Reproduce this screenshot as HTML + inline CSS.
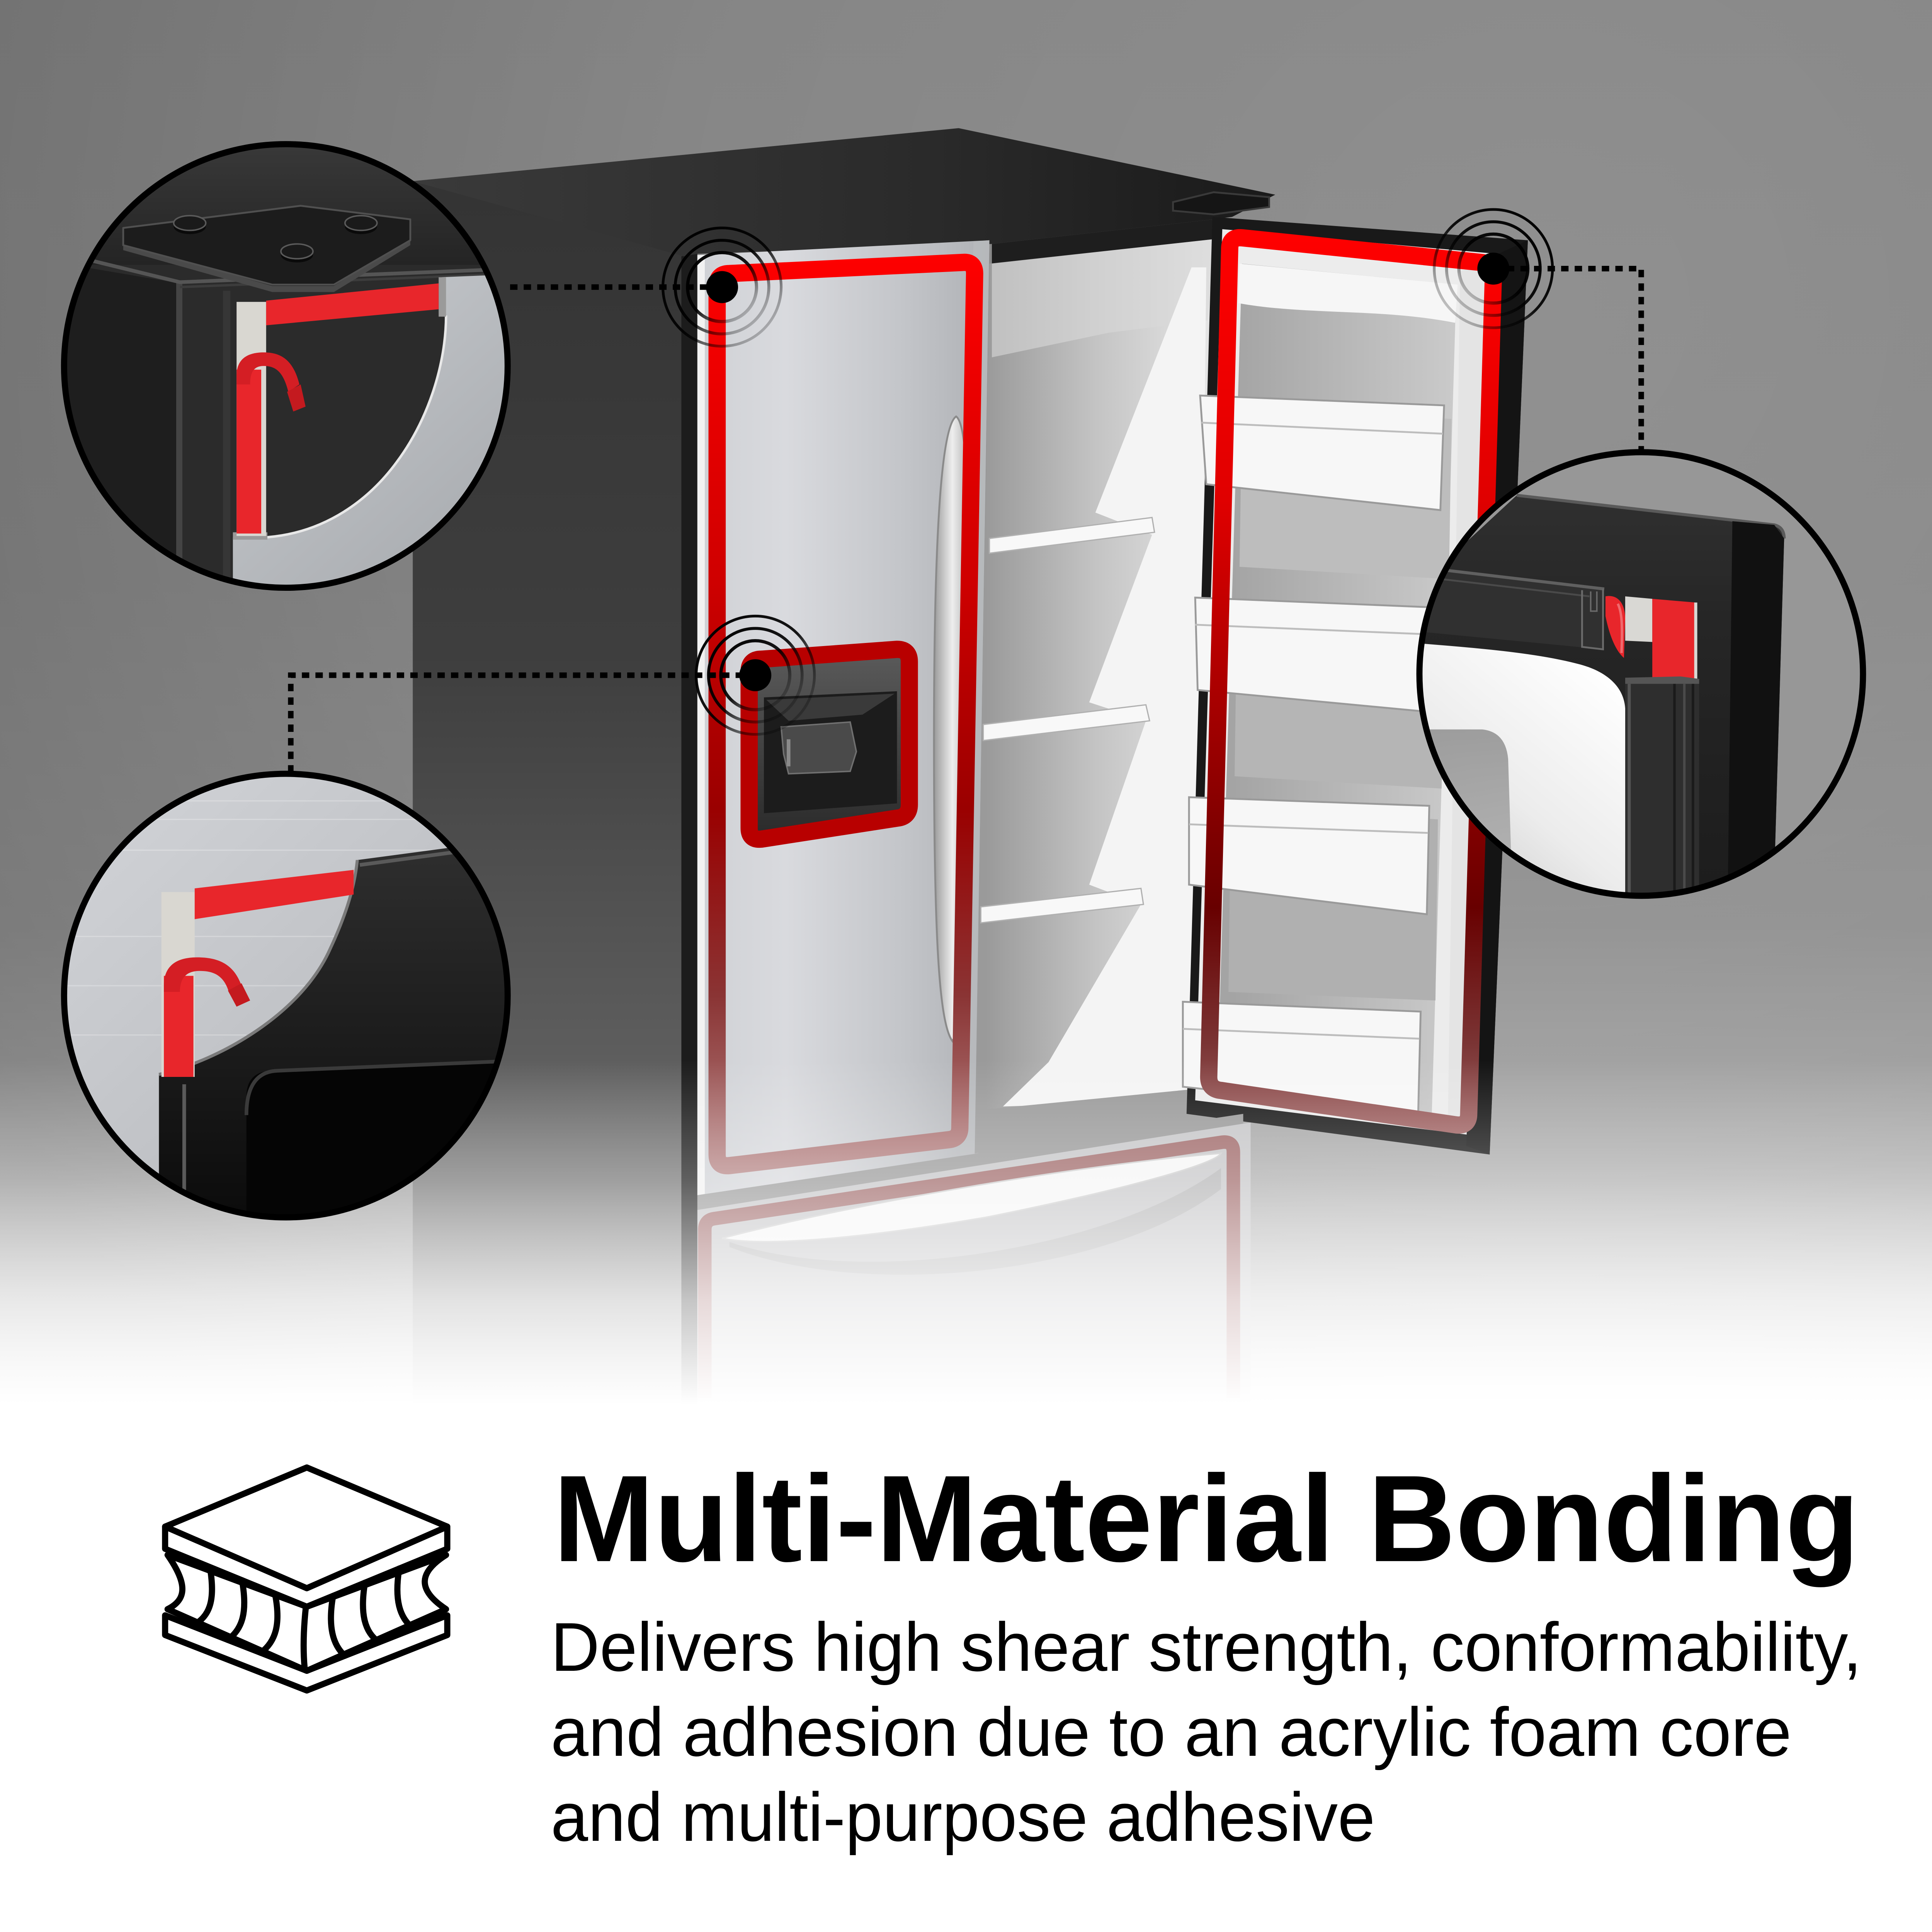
<!DOCTYPE html>
<html><head><meta charset="utf-8">
<style>html,body{margin:0;padding:0;background:#fff;width:100%;height:100%;overflow:hidden;}svg{display:block;width:100vw;height:100vh;}</style>
</head>
<body>
<svg xmlns="http://www.w3.org/2000/svg" viewBox="0 0 1568 1568" preserveAspectRatio="none">
<defs>
 <linearGradient id="bg" x1="0" y1="0" x2="0" y2="1568" gradientUnits="userSpaceOnUse">
  <stop offset="0" stop-color="#8e8e8e"/>
  <stop offset="0.3" stop-color="#929292"/>
  <stop offset="0.48" stop-color="#9c9c9c"/>
  <stop offset="0.6" stop-color="#b6b6b6"/>
  <stop offset="0.68" stop-color="#d8d8d8"/>
  <stop offset="0.725" stop-color="#ffffff"/>
  <stop offset="1" stop-color="#ffffff"/>
 </linearGradient>
 <radialGradient id="vig" cx="1250" cy="250" r="1400" gradientUnits="userSpaceOnUse">
  <stop offset="0" stop-color="#000" stop-opacity="0"/>
  <stop offset="0.5" stop-color="#000" stop-opacity="0.06"/>
  <stop offset="1" stop-color="#000" stop-opacity="0.22"/>
 </radialGradient>
 <linearGradient id="fade" x1="0" y1="860" x2="0" y2="1140" gradientUnits="userSpaceOnUse">
  <stop offset="0" stop-color="#fff" stop-opacity="0"/>
  <stop offset="0.35" stop-color="#fff" stop-opacity="0.3"/>
  <stop offset="0.7" stop-color="#fff" stop-opacity="0.75"/>
  <stop offset="1" stop-color="#fff" stop-opacity="1"/>
 </linearGradient>
 <linearGradient id="side" x1="0" y1="150" x2="0" y2="1100" gradientUnits="userSpaceOnUse">
  <stop offset="0" stop-color="#343434"/>
  <stop offset="0.4" stop-color="#3e3e3e"/>
  <stop offset="0.75" stop-color="#5e5e5e"/>
  <stop offset="1" stop-color="#9a9a9a"/>
 </linearGradient>
 <linearGradient id="topface" x1="335" y1="150" x2="1035" y2="160" gradientUnits="userSpaceOnUse">
  <stop offset="0" stop-color="#3a3a3a"/>
  <stop offset="0.6" stop-color="#2a2a2a"/>
  <stop offset="1" stop-color="#1a1a1a"/>
 </linearGradient>
 <linearGradient id="steelDoor" x1="566" y1="0" x2="805" y2="0" gradientUnits="userSpaceOnUse">
  <stop offset="0" stop-color="#cfd1d5"/>
  <stop offset="0.3" stop-color="#d9dade"/>
  <stop offset="0.7" stop-color="#c3c5c9"/>
  <stop offset="1" stop-color="#aeb0b4"/>
 </linearGradient>
 <linearGradient id="redL" x1="0" y1="200" x2="0" y2="960" gradientUnits="userSpaceOnUse">
  <stop offset="0" stop-color="#ff0000"/>
  <stop offset="0.35" stop-color="#d00000"/>
  <stop offset="0.6" stop-color="#9a0000"/>
  <stop offset="0.8" stop-color="#8a3434"/>
  <stop offset="1" stop-color="#b88a8a"/>
 </linearGradient>
 <linearGradient id="redR" x1="0" y1="185" x2="0" y2="920" gradientUnits="userSpaceOnUse">
  <stop offset="0" stop-color="#ff0000"/>
  <stop offset="0.3" stop-color="#e00000"/>
  <stop offset="0.55" stop-color="#a00000"/>
  <stop offset="0.75" stop-color="#680000"/>
  <stop offset="0.9" stop-color="#7a3434"/>
  <stop offset="1" stop-color="#a06464"/>
 </linearGradient>
 <linearGradient id="interior" x1="800" y1="0" x2="980" y2="0" gradientUnits="userSpaceOnUse">
  <stop offset="0" stop-color="#9a9a9a"/>
  <stop offset="0.5" stop-color="#c4c4c4"/>
  <stop offset="1" stop-color="#e4e4e4"/>
 </linearGradient>
 <linearGradient id="recess" x1="1000" y1="0" x2="1180" y2="0" gradientUnits="userSpaceOnUse">
  <stop offset="0" stop-color="#a4a4a4"/>
  <stop offset="1" stop-color="#cacaca"/>
 </linearGradient>
 <linearGradient id="handle" x1="758" y1="0" x2="788" y2="0" gradientUnits="userSpaceOnUse">
  <stop offset="0" stop-color="#9a9a9a"/>
  <stop offset="0.5" stop-color="#eeeeee"/>
  <stop offset="1" stop-color="#a8a8a8"/>
 </linearGradient>
 <linearGradient id="rg1" x1="0" y1="0" x2="1" y2="1">
  <stop offset="0" stop-color="#000" stop-opacity="1"/>
  <stop offset="0.5" stop-color="#000" stop-opacity="0.9"/>
  <stop offset="0.8" stop-color="#000" stop-opacity="0.3"/>
  <stop offset="1" stop-color="#000" stop-opacity="0.05"/>
 </linearGradient>
 <linearGradient id="rg2" x1="1" y1="0" x2="0" y2="1">
  <stop offset="0" stop-color="#000" stop-opacity="1"/>
  <stop offset="0.5" stop-color="#000" stop-opacity="0.9"/>
  <stop offset="0.8" stop-color="#000" stop-opacity="0.3"/>
  <stop offset="1" stop-color="#000" stop-opacity="0.05"/>
 </linearGradient>
 <linearGradient id="steelC" x1="190" y1="230" x2="410" y2="470" gradientUnits="userSpaceOnUse">
  <stop offset="0" stop-color="#c9ccd0"/>
  <stop offset="1" stop-color="#a6a9ad"/>
 </linearGradient>
 <linearGradient id="tlTop" x1="0" y1="110" x2="0" y2="215" gradientUnits="userSpaceOnUse">
  <stop offset="0" stop-color="#3a3a3a"/>
  <stop offset="1" stop-color="#242424"/>
 </linearGradient>
 <linearGradient id="steelBL" x1="60" y1="630" x2="400" y2="990" gradientUnits="userSpaceOnUse">
  <stop offset="0" stop-color="#d2d4d8"/>
  <stop offset="1" stop-color="#b2b4b8"/>
 </linearGradient>
 <linearGradient id="blackBL" x1="0" y1="690" x2="0" y2="1000" gradientUnits="userSpaceOnUse">
  <stop offset="0" stop-color="#2e2e2e"/>
  <stop offset="0.5" stop-color="#1c1c1c"/>
  <stop offset="1" stop-color="#0a0a0a"/>
 </linearGradient>
 <linearGradient id="blockR" x1="0" y1="400" x2="0" y2="740" gradientUnits="userSpaceOnUse">
  <stop offset="0" stop-color="#303030"/>
  <stop offset="0.3" stop-color="#262626"/>
  <stop offset="1" stop-color="#1c1c1c"/>
 </linearGradient>
 <linearGradient id="whiteR" x1="1150" y1="720" x2="1300" y2="540" gradientUnits="userSpaceOnUse">
  <stop offset="0" stop-color="#c8c8c8"/>
  <stop offset="0.45" stop-color="#ececec"/>
  <stop offset="1" stop-color="#ffffff"/>
 </linearGradient>
 <linearGradient id="grayR" x1="0" y1="590" x2="0" y2="740" gradientUnits="userSpaceOnUse">
  <stop offset="0" stop-color="#8e8e8e"/>
  <stop offset="1" stop-color="#b4b4b4"/>
 </linearGradient>
 <linearGradient id="dispIn" x1="0" y1="530" x2="0" y2="680" gradientUnits="userSpaceOnUse">
  <stop offset="0" stop-color="#5a5a5a"/>
  <stop offset="1" stop-color="#2a2a2a"/>
 </linearGradient>
 <clipPath id="cTL"><circle cx="232" cy="297" r="179"/></clipPath>
 <clipPath id="cBL"><circle cx="232" cy="808" r="179"/></clipPath>
 <clipPath id="cR"><circle cx="1332" cy="547" r="179"/></clipPath>
</defs>

<!-- background -->
<rect x="0" y="0" width="1568" height="1568" fill="url(#bg)"/>
<rect x="0" y="0" width="1568" height="1140" fill="url(#vig)"/>

<!-- ================= FRIDGE ================= -->
<polygon points="335,147 558,208 558,1140 335,1140" fill="url(#side)"/>
<polygon points="553,208 566,206 566,1140 553,1140" fill="#1c1c1c"/>
<polygon points="335,147 778,104 1035,158 1000,176 985,178 805,198 566,206 555,208" fill="url(#topface)"/>
<polygon points="805,198 985,178 985,196 805,216" fill="#1e1e1e"/>
<polygon points="952,164 985,156 1030,160 1030,168 985,174 952,171" fill="#151515" stroke="#3a3a3a" stroke-width="1.5"/>

<!-- interior -->
<polygon points="803,214 986,194 973,902 791,936" fill="url(#interior)"/>
<polygon points="805,214 986,194 980,260 900,270 805,290" fill="#d8d8d8" opacity="0.6"/>
<polygon points="967,217 979,217 972,893 814,898 851,862 926,734 884,718 930,585 884,570 935,434 889,416" fill="#f4f4f4"/>
<polygon points="803,437 935,420 937,432 803,449" fill="#f8f8f8" stroke="#b0b0b0" stroke-width="1"/>
<polygon points="798,588 930,572 933,585 798,601" fill="#f8f8f8" stroke="#b0b0b0" stroke-width="1"/>
<polygon points="796,736 926,721 928,734 796,749" fill="#f8f8f8" stroke="#b0b0b0" stroke-width="1"/>
<polygon points="794,901 1009,880 1009,918 794,936" fill="#9a9a9a"/>

<!-- left door -->
<polygon points="566,207 803,195 791,939 566,970" fill="url(#steelDoor)"/>
<polygon points="566,207 572,207 572,969 566,970" fill="#f2f2f2"/>
<polygon points="790,196 803,195 791,939 779,940" fill="#b8babd" opacity="0.8"/>
<path d="M776,338 C786,345 788,420 786,600 C785,760 782,830 773,845 C762,830 758,760 758,600 C758,420 765,345 776,338 Z" fill="url(#handle)" stroke="#8a8a8a" stroke-width="1.5"/>
<path d="M592,222 L781,213 Q791,212 791,222 L779,915 Q779,924 770,925 L592,946 Q582,947 582,937 L582,232 Q582,222 592,222 Z" fill="none" stroke="url(#redL)" stroke-width="14"/>
<path d="M618,535 L728,527 Q738,527 738,537 L738,653 Q738,663 728,664 L618,681 Q608,682 608,672 L608,545 Q608,535 618,535 Z" fill="url(#dispIn)" stroke="#b80000" stroke-width="14"/>
<polygon points="620,566 728,561 728,652 620,660" fill="#1c1c1c"/>
<polygon points="622,568 726,563 700,580 640,585" fill="#3a3a3a"/>
<path d="M634,590 L690,586 L695,610 L690,626 L640,628 L636,612 Z" fill="#4a4a4a" stroke="#707070" stroke-width="1.2"/>
<path d="M640,600 L640,622" stroke="#8a8a8a" stroke-width="3"/>

<!-- right door -->
<polygon points="984,176 1240,195 1209,937 963,904" fill="#191919"/>
<polygon points="992,186 1226,207 1200,922 970,893" fill="#ececec"/>
<polygon points="1008,214 1182,231 1162,905 988,880" fill="url(#recess)"/>
<path d="M1006,214 L1183,231 L1181,262 C1120,250 1060,256 1005,246 Z" fill="#f6f6f6"/>
<polygon points="1008,330 1178,340 1176,470 1006,460" fill="#bdbdbd"/>
<polygon points="1004,490 1172,500 1170,640 1002,630" fill="#b5b5b5"/>
<polygon points="999,655 1167,665 1165,812 997,805" fill="#b0b0b0"/>
<g stroke="#9a9a9a" stroke-width="1.5">
 <polygon points="974,321 1172,329 1169,414 979,393" fill="#f7f7f7"/>
 <polygon points="970,485 1165,493 1162,578 972,560" fill="#f7f7f7"/>
 <polygon points="965,647 1160,654 1158,742 965,718" fill="#f7f7f7"/>
 <polygon points="960,813 1153,821 1151,903 960,882" fill="#f7f7f7"/>
</g>
<g stroke="#bdbdbd" stroke-width="1.5" fill="none">
 <path d="M975,343 L1171,352"/>
 <path d="M970,507 L1164,515"/>
 <path d="M965,669 L1159,676"/>
 <path d="M960,835 L1152,843"/>
</g>
<polygon points="1185,220 1226,207 1200,922 1175,918" fill="#e4e4e4"/>
<polygon points="1216,206 1240,195 1209,937 1190,930" fill="#141414"/>
<path d="M1008,193 L1202,213 Q1212,214 1212,224 L1192,904 Q1192,914 1182,913 L991,885 Q981,884 981,874 L998,202 Q998,192 1008,193 Z" fill="none" stroke="url(#redR)" stroke-width="14"/>

<!-- lower drawer -->
<polygon points="566,970 794,936 1009,904 1009,912 566,982" fill="#9a9a9a"/>
<polygon points="566,982 1015,911 1015,1140 566,1140" fill="#c6c6c8"/>
<path d="M572,1135 L572,998 Q572,990 580,989 L992,927 Q1001,926 1001,935 L1001,1135" fill="none" stroke="#a06a6a" stroke-width="11"/>
<path d="M592,1008 C700,1045 900,1015 991,948 L991,965 C900,1035 700,1055 592,1012 Z" fill="#aaaaaa" opacity="0.6"/>
<path d="M586,1005 C700,975 880,945 991,936 C985,946 900,968 800,988 C700,1005 620,1012 586,1005 Z" fill="#f6f6f6" stroke="#cfcfcf" stroke-width="1.2"/>

<!-- fade to white -->
<rect x="0" y="860" width="1568" height="282" fill="url(#fade)"/>
<rect x="0" y="1140" width="1568" height="428" fill="#fff"/>

<!-- ================= DOTTED CONNECTORS ================= -->
<g stroke="#000" stroke-width="4.5" stroke-dasharray="6 5" fill="none">
 <path d="M414,233 H586"/>
 <path d="M236,627 V548 H613"/>
 <path d="M1212,218 H1332 V366"/>
</g>

<g fill="none">
 <circle cx="586" cy="233" r="48" stroke="url(#rg1)" stroke-width="2.2"/>
 <circle cx="586" cy="233" r="38" stroke="url(#rg1)" stroke-width="2.4"/>
 <circle cx="586" cy="233" r="28" stroke="url(#rg1)" stroke-width="2.6"/>
 <circle cx="613" cy="548" r="48" stroke="url(#rg1)" stroke-width="2.2"/>
 <circle cx="613" cy="548" r="38" stroke="url(#rg1)" stroke-width="2.4"/>
 <circle cx="613" cy="548" r="28" stroke="url(#rg1)" stroke-width="2.6"/>
 <circle cx="1212" cy="218" r="48" stroke="url(#rg2)" stroke-width="2.2"/>
 <circle cx="1212" cy="218" r="38" stroke="url(#rg2)" stroke-width="2.4"/>
 <circle cx="1212" cy="218" r="28" stroke="url(#rg2)" stroke-width="2.6"/>
</g>
<circle cx="586" cy="233" r="13" fill="#000"/>
<circle cx="613" cy="548" r="13" fill="#000"/>
<circle cx="1212" cy="218" r="13" fill="#000"/>

<!-- ================= TOP-LEFT CIRCLE ================= -->
<g clip-path="url(#cTL)">
 <rect x="40" y="100" width="400" height="400" fill="#2b2b2b"/>
 <rect x="40" y="100" width="400" height="115" fill="url(#tlTop)"/>
 <polygon points="40,212 146,230 146,490 40,490" fill="#1e1e1e"/>
 <rect x="143" y="229" width="5" height="260" fill="#444"/>
 <rect x="181" y="236" width="6" height="250" fill="#363636"/>
 <polyline points="60,208 146,229 395,219" stroke="#555" stroke-width="3" fill="none"/>
 <polyline points="146,233 395,223" stroke="#3c3c3c" stroke-width="2" fill="none"/>
 <!-- hinge plate with thickness -->
 <polygon points="100,185 100,201 221,236 271,236 333,199 333,180" fill="#0e0e0e"/>
 <polygon points="100,199 221,232 271,232 333,195 333,199 271,237 221,237 100,203" fill="#4a4a4a"/>
 <polygon points="100,185 244,167 333,178 333,195 271,231 221,231 100,199" fill="#1c1c1c" stroke="#505050" stroke-width="1.5" stroke-linejoin="round"/>
 <g>
  <ellipse cx="154" cy="184" rx="13" ry="6" fill="#0a0a0a"/>
  <ellipse cx="154" cy="181" rx="13" ry="6" fill="#1a1a1a" stroke="#5a5a5a" stroke-width="1.2"/>
  <ellipse cx="293" cy="184" rx="13" ry="6" fill="#0a0a0a"/>
  <ellipse cx="293" cy="181" rx="13" ry="6" fill="#1a1a1a" stroke="#5a5a5a" stroke-width="1.2"/>
  <ellipse cx="241" cy="207" rx="13" ry="6" fill="#0a0a0a"/>
  <ellipse cx="241" cy="204" rx="13" ry="6" fill="#1a1a1a" stroke="#5a5a5a" stroke-width="1.2"/>
 </g>
 <path d="M358,225 L430,222 L430,495 L189,495 L189,436 L217,436 C265,432 300,405 322,375 C348,340 362,295 362,256 Z" fill="url(#steelC)"/>
 <path d="M217,436 C265,432 300,405 322,375 C348,340 362,295 362,256" fill="none" stroke="#e8e8e8" stroke-width="2"/>
 <rect x="356" y="225" width="6" height="32" fill="#9a9a9a"/>
 <rect x="189" y="432" width="28" height="6" fill="#9a9a9a"/>
 <rect x="192" y="245" width="24" height="190" fill="#d9d7d1"/>
 <polygon points="216,244 356,230 356,251 216,264" fill="#e8262b"/>
 <rect x="192" y="300" width="20" height="133" fill="#e8262b"/>
 <path d="M192,305 C192,292 200,286 214,286 C228,286 238,292 243,312 L234,318 C230,302 224,297 214,297 C206,297 203,302 203,312 L192,312 Z" fill="#d41e24"/>
 <polygon points="233,318 244,312 248,330 238,334" fill="#c41a1f"/>
</g>
<circle cx="232" cy="297" r="180" fill="none" stroke="#000" stroke-width="5"/>

<!-- ================= BOTTOM-LEFT CIRCLE ================= -->
<g clip-path="url(#cBL)">
 <rect x="40" y="620" width="400" height="380" fill="url(#steelBL)"/>
 <g stroke="#ffffff" stroke-opacity="0.25" stroke-width="1">
  <path d="M50,650 H420"/><path d="M50,665 H420"/><path d="M50,690 H420"/><path d="M50,760 H300"/><path d="M50,800 H250"/><path d="M50,840 H200"/>
 </g>
 <path d="M290,698 L440,678 L440,1000 L129,1000 L129,872 C180,860 245,822 268,770 C282,740 288,718 290,698 Z" fill="url(#blackBL)"/>
 <path d="M290,698 C288,718 282,740 268,770 C245,822 180,860 129,872" fill="none" stroke="#7a7a7a" stroke-width="2.5"/>
 <path d="M292,702 L440,682" stroke="#5a5a5a" stroke-width="3"/>
 <path d="M200,1000 L200,890 Q200,870 220,869 L440,860 L440,1000 Z" fill="#050505"/>
 <path d="M200,905 Q200,870 225,869 L440,860" fill="none" stroke="#3a3a3a" stroke-width="3"/>
 <rect x="148" y="880" width="3" height="120" fill="#5a5a5a"/>
 <rect x="131" y="724" width="27" height="150" fill="#d9d7d1"/>
 <polygon points="158,721 287,706 287,726 158,746" fill="#e8262b"/>
 <rect x="133" y="792" width="24" height="82" fill="#e8262b"/>
 <path d="M133,800 C133,784 143,777 160,777 C178,777 190,783 196,800 L186,806 C182,792 174,788 162,788 C152,788 146,793 146,805 L133,805 Z" fill="#d41e24"/>
 <polygon points="185,804 196,798 203,812 192,817" fill="#c41a1f"/>
</g>
<circle cx="232" cy="808" r="180" fill="none" stroke="#000" stroke-width="5"/>

<!-- ================= RIGHT CIRCLE ================= -->
<g clip-path="url(#cR)">
 <rect x="1140" y="360" width="390" height="380" fill="#979797"/>
 <path d="M1231,402 L1440,426 Q1448,428 1448,437 L1439,745 L1145,745 L1145,470 L1177,452 Z" fill="url(#blockR)"/>
 <path d="M1231,402 L1440,426 Q1448,428 1448,437" fill="none" stroke="#5a5a5a" stroke-width="2.5"/>
 <polygon points="1406,423 1440,426 1448,437 1439,745 1402,745" fill="#111111"/>
 <path d="M1150,522 C1200,526 1250,530 1285,540 C1305,546 1318,558 1319,575 L1322,745 L1145,745 Z" fill="url(#whiteR)"/>
 <path d="M1145,592 L1203,592 Q1222,594 1224,616 L1228,745 L1145,745 Z" fill="url(#grayR)" opacity="0.85"/>
 <polygon points="1175,463 1302,478 1301,527 1156,513 1148,500" fill="#303030"/>
 <path d="M1175,463 L1302,478" stroke="#606060" stroke-width="2.5"/>
 <path d="M1170,470 L1290,484" stroke="#4a4a4a" stroke-width="1.5"/>
 <path d="M1284,479 L1284,525 L1301,527 L1301,478" fill="none" stroke="#6a6a6a" stroke-width="1.5"/>
 <path d="M1291,480 L1291,496 L1296,496 L1296,480" fill="none" stroke="#6a6a6a" stroke-width="1.2"/>
 <path d="M1303,484 C1313,482 1319,490 1319,502 L1318,534 C1311,528 1306,515 1303,500 Z" fill="#e8262b"/>
 <path d="M1313,490 C1316,496 1317,505 1316,530" stroke="#f06a6e" stroke-width="2" fill="none"/>
 <polygon points="1319,484 1341,486 1341,521 1319,520" fill="#d9d8d4"/>
 <polygon points="1341,486 1376,489 1376,553 1341,553" fill="#e8262b"/>
 <rect x="1375" y="489" width="2.5" height="64" fill="#d9d8d4"/>
 <rect x="1319" y="552" width="60" height="195" fill="#2e2e2e"/>
 <polygon points="1319,550 1364,549 1379,551 1379,555 1319,555" fill="#555"/>
 <rect x="1321" y="555" width="2.5" height="190" fill="#555"/>
 <rect x="1358" y="555" width="2" height="190" fill="#1a1a1a"/>
 <rect x="1366" y="555" width="2" height="190" fill="#4a4a4a"/>
 <rect x="1373" y="555" width="2" height="190" fill="#1a1a1a"/>
</g>
<circle cx="1332" cy="547" r="180" fill="none" stroke="#000" stroke-width="5"/>

<!-- ================= ICON ================= -->
<g fill="#fff" stroke="#000" stroke-width="5" stroke-linejoin="round" stroke-linecap="round">
 <path d="M134,1311 L249,1356 L363,1311 L363,1327 L249,1372 L134,1327 Z"/>
 <path d="M136,1262 C152,1285 152,1298 136,1306 L249,1356 L362,1306 C338,1290 340,1276 362,1262 L249,1304 Z"/>
 <path d="M249,1191 L363,1239 L363,1257 L249,1304 L134,1257 L134,1239 Z"/>
 <path d="M134,1239 L249,1289 L363,1239" fill="none"/>
 <g fill="none">
  <path d="M170.4,1272 C175,1300 170,1312 156,1319.6"/>
  <path d="M196.4,1282.5 C201,1308 197,1322 184.8,1330.9"/>
  <path d="M223.2,1293.5 C228,1318 224,1332 211.7,1341.4"/>
  <path d="M248.2,1304.5 C246,1325 246,1340 247.2,1353.4"/>
  <path d="M270.3,1295.2 C266,1320 270,1335 279.9,1343.8"/>
  <path d="M296.2,1284.5 C292,1310 296,1325 307.7,1332.8"/>
  <path d="M324,1273 C320,1298 324,1313 335.6,1321.8"/>
 </g>
</g>

<!-- ================= TEXT ================= -->
<text x="449" y="1267" font-family="'Liberation Sans', Arial, sans-serif" font-weight="bold" font-size="100" textLength="1060" lengthAdjust="spacingAndGlyphs" fill="#000">Multi-Material Bonding</text>
<g font-family="'Liberation Sans', Arial, sans-serif" font-size="56" fill="#000">
 <text x="447" y="1356" textLength="1064" lengthAdjust="spacingAndGlyphs">Delivers high shear strength, conformability,</text>
 <text x="447" y="1425" textLength="1007" lengthAdjust="spacingAndGlyphs">and adhesion due to an acrylic foam core</text>
 <text x="447" y="1494" textLength="669" lengthAdjust="spacingAndGlyphs">and multi-purpose adhesive</text>
</g>
</svg>
</body></html>
